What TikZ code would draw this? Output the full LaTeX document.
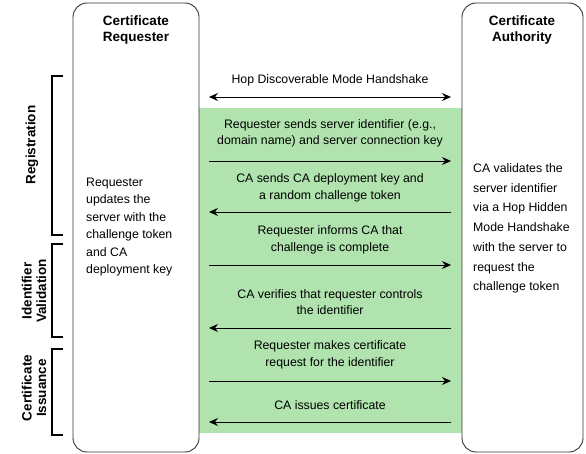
\documentclass[tikz,border=0pt]{standalone}
\usepackage{fontspec}
\setmainfont{Liberation Sans}
\usetikzlibrary{arrows.meta}
\definecolor{boxline}{HTML}{333333}
\definecolor{phasegreen}{RGB}{176,227,174}
\tikzset{
  life/.style={draw=boxline, line width=0.9pt, rounded corners=14pt},
  hdr/.style={font=\fontsize{13.5}{16.5}\selectfont\bfseries, align=center, inner sep=0pt},
  msgtext/.style={font=\fontsize{12.3}{16.5}\selectfont, align=center, inner sep=0pt},
  note/.style={font=\fontsize{12.3}{17.4}\selectfont, align=left, inner sep=0pt, anchor=west},
  notewide/.style={font=\fontsize{12.3}{19.7}\selectfont, align=left, inner sep=0pt, anchor=west},
  msg/.style={draw=black, line width=0.9pt, -{Stealth[length=9pt,width=8pt,inset=3pt]}},
  bimsg/.style={draw=black, line width=0.9pt, {Stealth[length=9pt,width=8pt,inset=3pt]}-{Stealth[length=9pt,width=8pt,inset=3pt]}},
  brk/.style={draw=black, line width=2.6pt},
  phase/.style={font=\fontsize{13.5}{14.5}\selectfont\bfseries, align=center, inner sep=0pt, rotate=90}
}
\begin{document}
\begin{tikzpicture}[x=1pt,y=-1pt]
\useasboundingbox (0,0) rectangle (586,454);
% green area
\fill[phasegreen] (199,108) rectangle (462,433);
% lifelines
\draw[life] (73,3) rectangle (199,452);
\draw[life] (462,3) rectangle (583,452);
\node[hdr] (req) at (136,30) {Certificate\\Requester};
\node[hdr] (ca) at (522,30) {Certificate\\Authority};
% endpoints
\foreach \n/\y in {h/97,m1/161,m2/212,m3/265,m4/328,m5/381,m6/422}{
  \coordinate (\n l) at (209,\y);
  \coordinate (\n r) at (451,\y);
}
\node[msgtext] (th) at (330,80) {Hop Discoverable Mode Handshake};
\draw[bimsg] (hl) -- (hr);
\node[msgtext] (t1) at (330,133.5) {Requester sends server identifier (e.g.,\\domain name) and server connection key};
\draw[msg] (m1l) -- (m1r);
\node[msgtext] (t2) at (330,188) {CA sends CA deployment key and\\a random challenge token};
\draw[msg] (m2r) -- (m2l);
\node[msgtext] (t3) at (330,240) {Requester informs CA that\\challenge is complete};
\draw[msg] (m3l) -- (m3r);
\node[msgtext] (t4) at (330,302) {CA verifies that requester controls\\the identifier};
\draw[msg] (m4r) -- (m4l);
\node[msgtext] (t5) at (330,355) {Requester makes certificate\\request for the identifier};
\draw[msg] (m5l) -- (m5r);
\node[msgtext] (t6) at (330,405) {CA issues certificate};
\draw[msg] (m6r) -- (m6l);
% notes
\node[note] (nl) at (86,227) {Requester\\updates the\\server with the\\challenge token\\and CA\\deployment key};
\node[notewide] (nr) at (473,228.5) {CA validates the\\server identifier\\via a Hop Hidden\\Mode Handshake\\with the server to\\request the\\challenge token};
% brackets
\draw[brk] (63,76) -- (52,76) -- (52,235) -- (63,235);
\draw[brk] (63,244) -- (52,244) -- (52,337) -- (63,337);
\draw[brk] (63,349) -- (52,349) -- (52,435) -- (63,435);
\node[phase] (p1) at (32,145) {Registration};
\node[phase] (p2) at (34,291) {Identifier\\Validation};
\node[phase] (p3) at (34,388) {Certificate\\Issuance};
\end{tikzpicture}
\end{document}
